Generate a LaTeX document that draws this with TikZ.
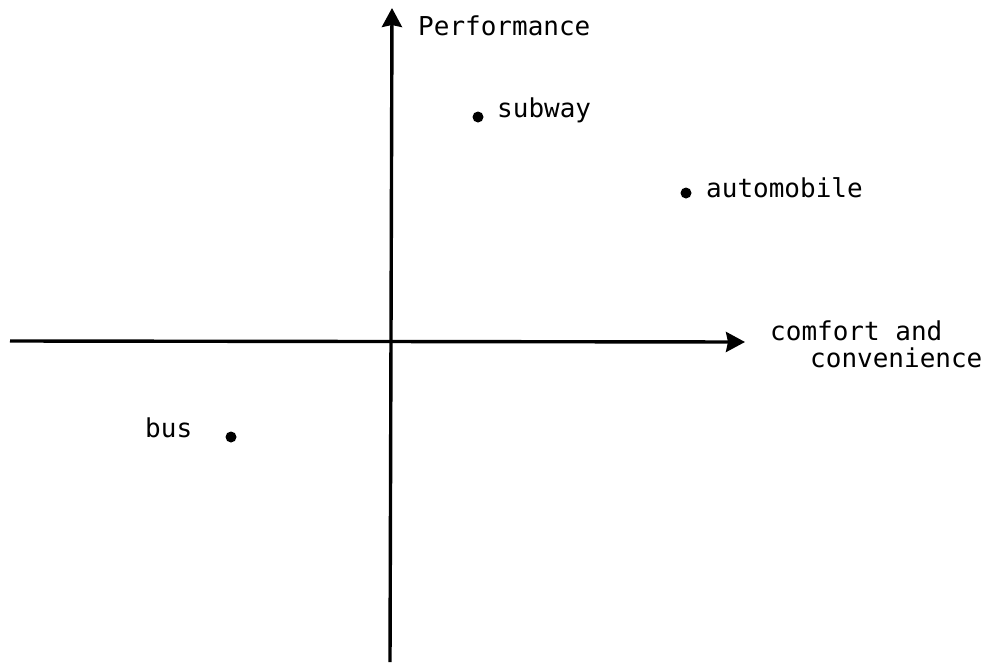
\documentclass[tikz,border=0pt]{standalone}
\usepackage{fontspec}
\setmonofont{DejaVu Sans Mono}
\usetikzlibrary{arrows.meta}
\tikzset{
  axis/.style={line width=3.4pt, -{Stealth[length=19pt,width=20pt,inset=2pt]}},
  dot/.style={circle, fill=black, inner sep=0pt, minimum size=11pt},
  lbl/.style={anchor=base west, inner sep=0pt, font=\ttfamily\fontsize{26}{30}\selectfont}
}
\begin{document}
\begin{tikzpicture}[x=1pt,y=-1pt]
\useasboundingbox (0,0) rectangle (1002,664);
% axes
\coordinate (vbot) at (390,662);
\coordinate (vtop) at (392,8);
\coordinate (hleft) at (10,341);
\coordinate (hright) at (745,342);
\draw[axis] (vbot) -- (vtop);
\draw[axis] (hleft) -- (hright);
% points
\node[dot] (subway) at (478,117) {};
\node[dot] (auto) at (686,193) {};
\node[dot] (bus) at (231,437) {};
% labels
\node[lbl] (perf) at (418,35) {Performance};
\node[lbl] (subwaylbl) at (497,117) {subway};
\node[lbl] (autolbl) at (706,197) {automobile};
\node[lbl] (comf) at (770,340) {comfort and};
\node[lbl] (conv) at (810,367) {convenience};
\node[lbl] (buslbl) at (145,437) {bus};
\end{tikzpicture}
\end{document}
